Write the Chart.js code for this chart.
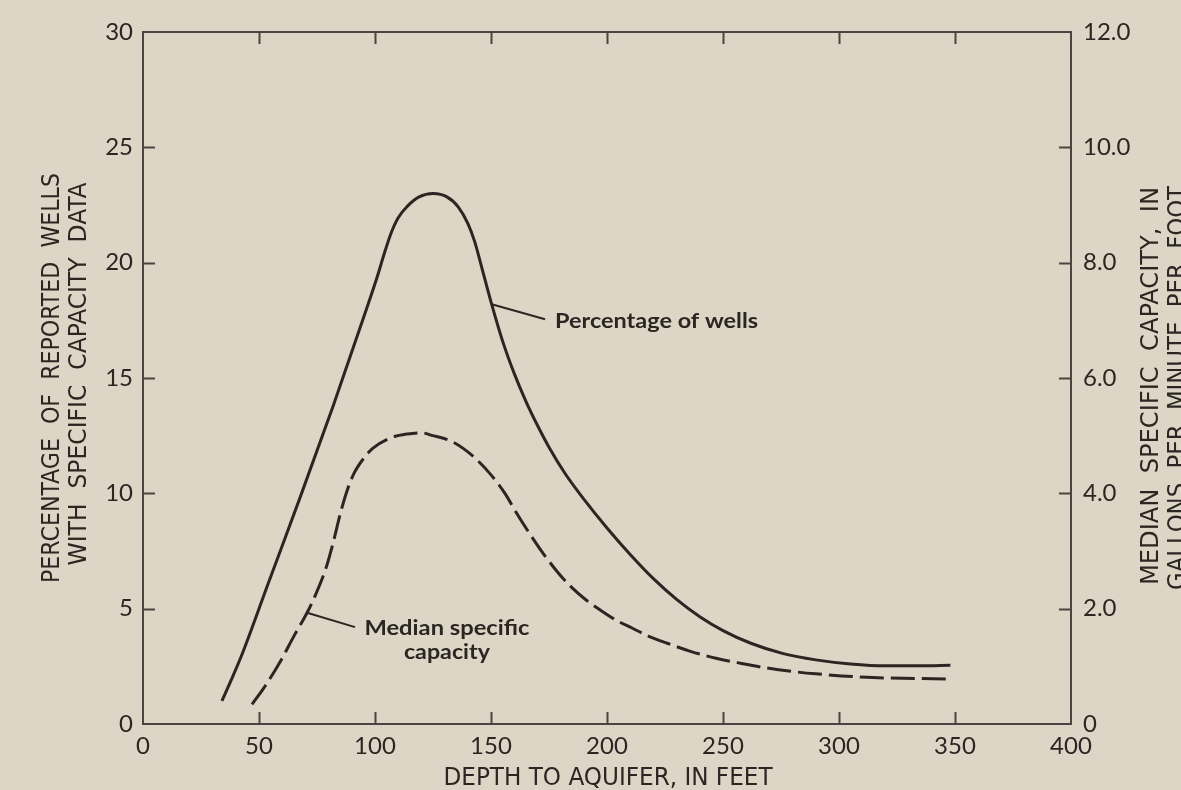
<!DOCTYPE html>
<html>
<head>
<meta charset="utf-8">
<script src="https://cdn.jsdelivr.net/npm/chart.js@4.4.1/dist/chart.umd.min.js"></script>
<style>
    html, body { margin: 0; padding: 0; background: #ddd6c7; }
    #wrap { position: relative; width: 1181px; height: 790px; }
</style>
</head>
<body>
<div id="wrap"><canvas id="chart" width="1181" height="790"></canvas></div>
<script>
// Depth to aquifer vs. percentage of wells / median specific capacity

// 百分比曲线 (left axis, percent)
const wellsDepth = [34, 38, 43, 54, 68, 82, 95, 101, 104, 107, 110, 114, 119, 125, 131, 136, 140, 143, 146, 150, 155,
    160, 165, 170, 175, 182, 190, 200, 210, 220, 230, 240, 250, 262, 276, 290, 305, 320, 335, 348];
const wellsPct = [1.0, 1.9, 3.1, 6.1, 9.9, 13.8, 17.6, 19.4, 20.4, 21.3, 21.95, 22.45, 22.85, 23.0, 22.85, 22.4, 21.7,
    20.9, 19.8, 18.3, 16.6, 15.2, 14.0, 12.95, 12.0, 10.85, 9.75, 8.5, 7.35, 6.3, 5.4, 4.65, 4.05, 3.5, 3.05, 2.78,
    2.6, 2.52, 2.52, 2.55];

// 中位单位出水量 (right axis, gpm per ft)
const capDepth = [47, 53, 59, 65, 71, 75, 79, 82, 85, 88, 91, 95, 99, 106, 114, 120, 125, 132, 138, 144, 150, 156, 161,
    167, 173, 179, 185, 191, 197, 204, 211, 218, 226, 236, 247, 258, 269, 280, 290, 312, 347];
const capGpm = [0.34, 0.68, 1.07, 1.52, 1.95, 2.3, 2.72, 3.15, 3.64, 4.05, 4.35, 4.6, 4.78, 4.95, 5.03, 5.05, 5.0, 4.92,
    4.78, 4.58, 4.32, 4.0, 3.66, 3.28, 2.93, 2.62, 2.36, 2.15, 1.98, 1.8, 1.66, 1.52, 1.4, 1.26, 1.14, 1.05, 0.97,
    0.91, 0.87, 0.81, 0.78];

const xTitle = 'DEPTH TO AQUIFER, IN FEET';
const leftTitle = ['PERCENTAGE  OF  REPORTED  WELLS', 'WITH  SPECIFIC  CAPACITY  DATA'];
const rightTitle = ['MEDIAN  SPECIFIC  CAPACITY,  IN', 'GALLONS  PER  MINUTE  PER  FOOT'];

const INK = '#2b2622';
const FRAME = '#4a4540';
const BG = '#ddd6c7';
const TICK_FONT = { family: 'Lato, "Open Sans", sans-serif', size: 24 };
const TITLE_FONT = '"Liberation Sans Narrow", "DejaVu Sans Condensed", sans-serif';
const NOTE_FONT = 'bold 21px Lato, "Open Sans", sans-serif';

const toPoints = (xs, ys) => xs.map((x, i) => ({ x: x, y: ys[i] }));

// 画布背景
const bgPlugin = {
    id: 'bg',
    beforeDraw(chart) {
        const c = chart.ctx;
        c.save();
        c.fillStyle = BG;
        c.fillRect(0, 0, chart.width, chart.height);
        c.restore();
    }
};

// 向内的刻度线
const inwardTicks = {
    id: 'inwardTicks',
    afterDatasetsDraw(chart) {
        const c = chart.ctx;
        const a = chart.chartArea;
        const len = 12;
        c.save();
        c.strokeStyle = FRAME;
        c.lineWidth = 2;
        const sx = chart.scales;
        [sx.x, sx.xTop].forEach(s => {
            s.ticks.forEach(t => {
                if (t.value <= s.min || t.value >= s.max) return;
                const px = Math.round(s.getPixelForValue(t.value)) + 0.5;
                c.beginPath();
                if (s.position === 'bottom') { c.moveTo(px, a.bottom); c.lineTo(px, a.bottom - len); }
                else { c.moveTo(px, a.top); c.lineTo(px, a.top + len); }
                c.stroke();
            });
        });
        [sx.y, sx.y2].forEach(s => {
            s.ticks.forEach(t => {
                if (t.value <= s.min || t.value >= s.max) return;
                const py = Math.round(s.getPixelForValue(t.value)) + 0.5;
                c.beginPath();
                if (s.position === 'left') { c.moveTo(a.left, py); c.lineTo(a.left + len, py); }
                else { c.moveTo(a.right, py); c.lineTo(a.right - len, py); }
                c.stroke();
            });
        });
        c.restore();
    }
};

// text squeezed/stretched to a given length
function fitText(c, text, x, y, length, angle) {
    c.save();
    c.translate(x, y);
    c.rotate(angle);
    const w = c.measureText(text).width;
    c.scale(length / w, 1);
    c.fillText(text, 0, 0);
    c.restore();
}

// 轴标题与曲线标注
const labelsPlugin = {
    id: 'labels',
    afterDraw(chart) {
        const c = chart.ctx;
        const sx = chart.scales;
        const px = v => sx.x.getPixelForValue(v);
        const py = v => sx.y.getPixelForValue(v);
        c.save();
        c.fillStyle = INK;
        c.textAlign = 'center';
        c.textBaseline = 'middle';
        c.font = '24px ' + TITLE_FONT;
        fitText(c, xTitle, 608, 779, 329, 0);
        fitText(c, leftTitle[0], 53, 378, 410, -Math.PI / 2);
        fitText(c, leftTitle[1], 80, 374, 383, -Math.PI / 2);
        fitText(c, rightTitle[0], 1152, 386, 398, -Math.PI / 2);
        fitText(c, rightTitle[1], 1179, 388, 404, -Math.PI / 2);

        // leader lines, in data units
        c.strokeStyle = INK;
        c.lineWidth = 2;
        const line = (x1, y1, x2, y2) => {
            c.beginPath();
            c.moveTo(px(x1), py(y1));
            c.lineTo(px(x2), py(y2));
            c.stroke();
        };
        line(150.3, 18.2, 173.3, 17.55);
        line(71.1, 4.81, 91.4, 4.2);

        c.font = NOTE_FONT;
        c.textAlign = 'left';
        fitText(c, 'Percentage of wells', px(177.6), py(17.47), 203, 0);
        c.textAlign = 'center';
        fitText(c, 'Median specific', px(131), py(4.16), 165, 0);
        fitText(c, 'capacity', px(131), py(3.12), 86, 0);
        c.restore();
    }
};

const border = { display: true, color: FRAME, width: 2 };
const noGrid = { drawOnChartArea: false, drawTicks: false };

new Chart(document.getElementById('chart'), {
    type: 'line',
    data: {
        datasets: [{
            label: 'Percentage of wells',
            data: toPoints(wellsDepth, wellsPct),
            yAxisID: 'y',
            borderColor: INK,
            borderWidth: 3,
            pointRadius: 0,
            cubicInterpolationMode: 'monotone',
            fill: false
        }, {
            label: 'Median specific capacity',
            data: toPoints(capDepth, capGpm),
            yAxisID: 'y2',
            borderColor: INK,
            borderWidth: 3,
            borderDash: [24, 7],
            pointRadius: 0,
            cubicInterpolationMode: 'monotone',
            fill: false
        }]
    },
    options: {
        responsive: false,
        animation: false,
        layout: { padding: 0 },
        plugins: {
            legend: { display: false },
            tooltip: { enabled: false }
        },
        scales: {
            x: {
                type: 'linear', position: 'bottom', min: 0, max: 400,
                ticks: { stepSize: 50, color: INK, font: TICK_FONT, padding: 8, maxRotation: 0 },
                grid: noGrid, border: border,
                afterFit: s => { s.height = 66; }
            },
            xTop: {
                type: 'linear', position: 'top', min: 0, max: 400,
                ticks: { stepSize: 50, display: false },
                grid: noGrid, border: border,
                afterFit: s => { s.height = 32; }
            },
            y: {
                type: 'linear', position: 'left', min: 0, max: 30,
                ticks: { stepSize: 5, color: INK, font: TICK_FONT, padding: 10 },
                grid: noGrid, border: border,
                afterFit: s => { s.width = 143; }
            },
            y2: {
                type: 'linear', position: 'right', min: 0, max: 12,
                ticks: {
                    stepSize: 2, color: INK, font: TICK_FONT, padding: 12,
                    callback: v => v === 0 ? '0' : v.toFixed(1)
                },
                grid: noGrid, border: border,
                afterFit: s => { s.width = 110; }
            }
        }
    },
    plugins: [bgPlugin, inwardTicks, labelsPlugin]
});
</script>
</body>
</html>
